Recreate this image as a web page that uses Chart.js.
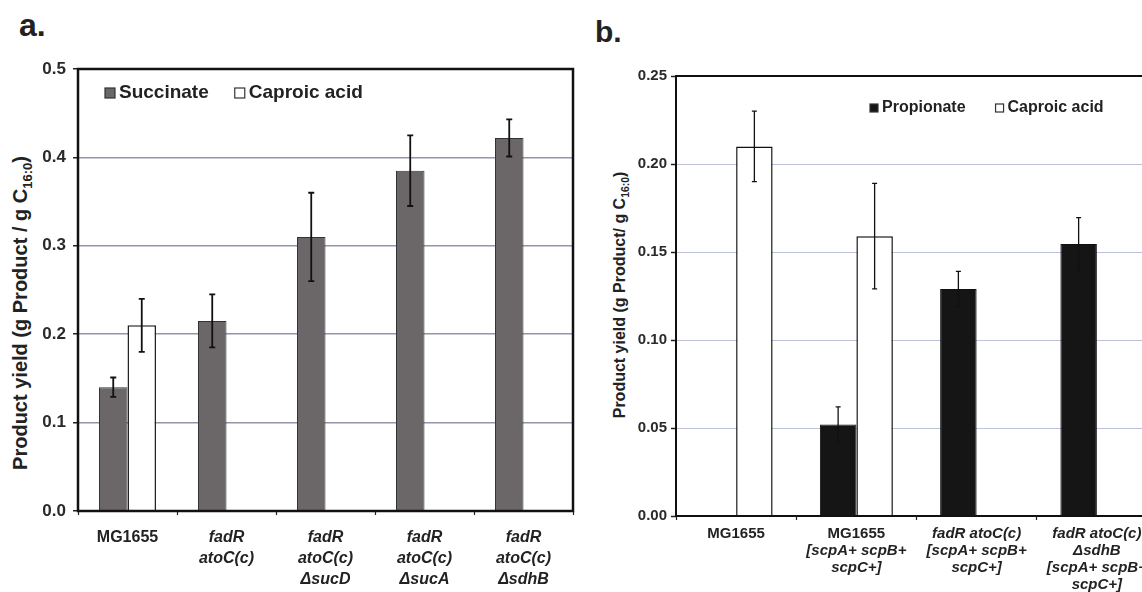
<!DOCTYPE html>
<html>
<head>
<meta charset="utf-8">
<script src="https://cdn.jsdelivr.net/npm/chart.js@4.4.1/dist/chart.umd.min.js"></script>
<style>
  html, body { margin: 0; padding: 0; background: #fff; overflow: hidden; }
  body { width: 1142px; height: 592px; position: relative; font-family: "Liberation Sans", Arial, sans-serif; color: #222; }
  .panel { position: absolute; top: 0; height: 592px; }
  #panelA { left: 0; width: 600px; }
  #panelB { left: 590px; width: 620px; }
  .tag { position: absolute; font-weight: bold; line-height: 1; }
  .ytitle { position: absolute; font-weight: bold; white-space: nowrap; transform: translate(-50%, -50%) rotate(-90deg); }
  .ytitle sub { font-size: 65%; }
</style>
</head>
<body>
<div class="tag" style="left:19px; top:9px; font-size:32px;">a.</div>
<div class="tag" style="left:595px; top:17px; font-size:30px;">b.</div>
<div class="ytitle" style="left:22px; top:313px; font-size:20px;">Product yield (g Product / g C<sub>16:0</sub>)</div>
<div class="ytitle" style="left:621px; top:295px; font-size:16px;">Product yield (g Product/ g C<sub>16:0</sub>)</div>
<div class="panel" id="panelA"><canvas id="chartA"></canvas></div>
<div class="panel" id="panelB"><canvas id="chartB"></canvas></div>
<script>
// panel a
const strainsA = [['MG1655'], ['fadR', 'atoC(c)'], ['fadR', 'atoC(c)', 'ΔsucD'], ['fadR', 'atoC(c)', 'ΔsucA'], ['fadR', 'atoC(c)', 'ΔsdhB']];
const succinate = [0.14, 0.215, 0.31, 0.385, 0.422];
const succinateErr = [0.011, 0.03, 0.05, 0.04, 0.021];
const caproicA = [0.21, null, null, null, null];
const caproicAErr = [0.03, null, null, null, null];
const ticksA = { min: 0, max: 0.5, step: 0.1 };

// panel b
const strainsB = [['MG1655'], ['MG1655', '[scpA+ scpB+', 'scpC+]'], ['fadR atoC(c)', '[scpA+ scpB+', 'scpC+]'], ['fadR atoC(c)', 'ΔsdhB', '[scpA+ scpB+', 'scpC+]']];
const propionate = [null, 0.052, 0.129, 0.1545];
const propionateErr = [null, 0.01, 0.01, 0.015];
const caproicB = [0.21, 0.159, null, null];
const caproicBErr = [0.02, 0.03, null, null];
const ticksB = { min: 0, max: 0.25, step: 0.05 };

const FONT = '"Liberation Sans", Arial, sans-serif';
const plainLines = ['MG1655'];

// error bars drawn from each dataset's errors array
const errorBars = {
  id: 'errorBars',
  afterDatasetsDraw(chart, args, opts) {
    const ctx = chart.ctx;
    const y = chart.scales.y;
    ctx.save();
    ctx.strokeStyle = '#111';
    ctx.lineWidth = opts.width;
    chart.data.datasets.forEach((ds, i) => {
      chart.getDatasetMeta(i).data.forEach((bar, j) => {
        const v = ds.data[j], e = ds.errors[j];
        if (v == null || e == null) return;
        const top = y.getPixelForValue(v + e), bot = y.getPixelForValue(v - e);
        ctx.beginPath();
        ctx.moveTo(bar.x, top); ctx.lineTo(bar.x, bot);
        ctx.moveTo(bar.x - opts.cap, top); ctx.lineTo(bar.x + opts.cap, top);
        ctx.moveTo(bar.x - opts.cap, bot); ctx.lineTo(bar.x + opts.cap, bot);
        ctx.stroke();
      });
    });
    ctx.restore();
  }
};

// black box round the plot area
const frame = {
  id: 'frame',
  afterDatasetsDraw(chart, args, opts) {
    const { left, top, right, bottom } = chart.chartArea;
    const ctx = chart.ctx;
    ctx.save();
    ctx.strokeStyle = '#111';
    ctx.lineWidth = opts.width;
    ctx.strokeRect(left, top, right - left, bottom - top);
    ctx.restore();
  }
};

// legend inside the plot, one row
const innerLegend = {
  id: 'innerLegend',
  afterDraw(chart, args, opts) {
    const ctx = chart.ctx;
    let x = chart.chartArea.left + opts.x;
    const y = chart.chartArea.top + opts.y;
    ctx.save();
    ctx.font = `bold ${opts.size}px ${FONT}`;
    ctx.textBaseline = 'middle';
    chart.data.datasets.forEach(ds => {
      ctx.fillStyle = ds.backgroundColor;
      ctx.fillRect(x, y - opts.box / 2, opts.box, opts.box);
      ctx.strokeStyle = '#333';
      ctx.lineWidth = 1.2;
      ctx.strokeRect(x, y - opts.box / 2, opts.box, opts.box);
      x += opts.box + 4;
      ctx.fillStyle = '#222';
      ctx.fillText(ds.label, x, y);
      x += ctx.measureText(ds.label).width + opts.gap;
    });
    ctx.restore();
  }
};

// category labels, several lines, gene names in italic
const xLabels = {
  id: 'xLabels',
  afterDraw(chart, args, opts) {
    const ctx = chart.ctx;
    const xs = chart.scales.x;
    ctx.save();
    ctx.textAlign = 'center';
    ctx.textBaseline = 'middle';
    ctx.fillStyle = '#222';
    chart.data.labels.forEach((lines, i) => {
      const px = xs.getPixelForTick(i);
      lines.forEach((ln, k) => {
        const italic = plainLines.includes(ln) ? '' : 'italic ';
        ctx.font = `${italic}bold ${opts.size}px ${FONT}`;
        ctx.fillText(ln, px, chart.chartArea.bottom + opts.offset + k * opts.lineHeight);
      });
    });
    ctx.restore();
  }
};

function makeChart(id, cfg) {
  return new Chart(document.getElementById(id), {
    type: 'bar',
    data: { labels: cfg.labels, datasets: cfg.datasets },
    plugins: [frame, errorBars, innerLegend, xLabels],
    options: {
      responsive: true,
      maintainAspectRatio: false,
      animation: false,
      layout: { padding: cfg.padding },
      datasets: { bar: { categoryPercentage: cfg.catPct, barPercentage: 1 } },
      scales: {
        x: {
          afterFit: s => { s.height = cfg.xHeight; },
          ticks: { display: false },
          border: { display: false },
          grid: { drawOnChartArea: false, drawTicks: true, tickLength: 4, tickColor: '#222', tickWidth: 1.2 }
        },
        y: {
          min: cfg.ticks.min,
          max: cfg.ticks.max,
          afterFit: s => { s.width = cfg.yWidth; },
          border: { display: false },
          grid: { color: cfg.gridColor, lineWidth: cfg.gridWidth, tickLength: 5, tickColor: '#222', tickWidth: 1.5 },
          ticks: {
            stepSize: cfg.ticks.step,
            padding: cfg.tickPad,
            color: '#2a2a2a',
            font: { family: FONT, size: cfg.tickSize, weight: 'bold' },
            callback: v => v.toFixed(cfg.decimals)
          }
        }
      },
      plugins: {
        legend: { display: false },
        tooltip: { enabled: false },
        errorBars: cfg.errorBars,
        frame: { width: cfg.frameWidth },
        innerLegend: cfg.legend,
        xLabels: cfg.xLabels
      }
    }
  });
}

makeChart('chartA', {
  labels: strainsA,
  datasets: [
    { label: 'Succinate', data: succinate, errors: succinateErr, backgroundColor: '#6b6769', borderColor: '#333', borderWidth: 1 },
    { label: 'Caproic acid', data: caproicA, errors: caproicAErr, backgroundColor: '#ffffff', borderColor: '#222', borderWidth: 1.5 }
  ],
  padding: { top: 69, right: 27, left: 0, bottom: 0 },
  xHeight: 81, yWidth: 78,
  catPct: 0.576,
  ticks: ticksA, decimals: 1, tickSize: 17, tickPad: 7,
  gridColor: '#9494ab', gridWidth: 1.5,
  frameWidth: 2.5,
  errorBars: { width: 1.8, cap: 3 },
  legend: { x: 27, y: 24, size: 19, box: 10, gap: 26 },
  xLabels: { size: 16, offset: 27, lineHeight: 21 }
});

makeChart('chartB', {
  labels: strainsB,
  datasets: [
    { label: 'Propionate', data: propionate, errors: propionateErr, backgroundColor: '#151515', borderColor: '#111', borderWidth: 1 },
    { label: 'Caproic acid', data: caproicB, errors: caproicBErr, backgroundColor: '#ffffff', borderColor: '#111', borderWidth: 1.5 }
  ],
  padding: { top: 76, right: 53, left: 0, bottom: 0 },
  xHeight: 76, yWidth: 86,
  catPct: 0.607,
  ticks: ticksB, decimals: 2, tickSize: 15, tickPad: 4,
  gridColor: '#bcc3d6', gridWidth: 1,
  frameWidth: 2,
  errorBars: { width: 1.3, cap: 2.5 },
  legend: { x: 194, y: 32, size: 16, box: 8, gap: 30 },
  xLabels: { size: 15, offset: 18, lineHeight: 17 }
});
</script>
</body>
</html>
